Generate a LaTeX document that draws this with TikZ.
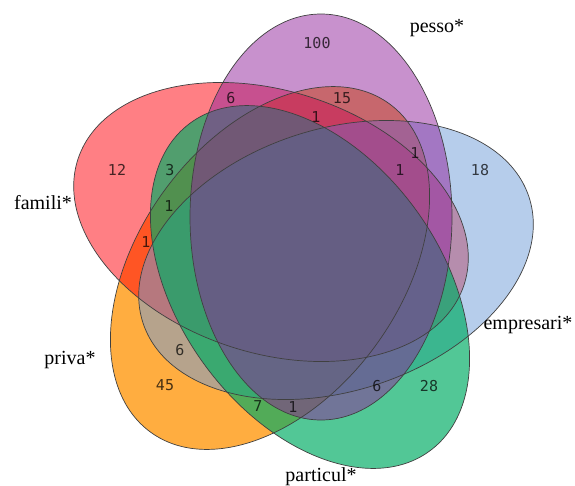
\documentclass[tikz,border=0pt]{standalone}
\usepackage{fontspec}
\setmainfont{Liberation Serif}
\newfontfamily\numfont{DejaVu Sans Mono}
\definecolor{cPriva}{RGB}{255,145,0}
\definecolor{cFamili}{RGB}{255,0,10}
\definecolor{cParticul}{RGB}{0,172,100}
\definecolor{cEmpresari}{RGB}{110,155,215}
\definecolor{cPesso}{RGB}{145,35,155}
\begin{document}
\begin{tikzpicture}
		[x=1pt, y=-1pt,
		 ring/.style = {draw=black!75, line width=0.7pt},
		 count/.style = {font=\numfont\fontsize{15}{15}\selectfont, text=black, text opacity=0.72},
		 setname/.style = {font=\fontsize{20}{20}\selectfont}]
	\useasboundingbox (0,0) rectangle (575,485);
	\coordinate (priva) at (270,268);
	\coordinate (famili) at (271,222);
	\coordinate (particul) at (310,287);
	\coordinate (empresari) at (336,260);
	\coordinate (pesso) at (321,217);
	% fills, bottom to top
	\fill[cPriva, fill opacity=0.75, rotate around={54:(priva)}] (priva) ellipse [x radius=203, y radius=131];
	\fill[cFamili, fill opacity=0.5, rotate around={162:(famili)}] (famili) ellipse [x radius=203, y radius=131];
	\fill[cEmpresari, fill opacity=0.5, rotate around={18:(empresari)}] (empresari) ellipse [x radius=203, y radius=131];
	\fill[cParticul, fill opacity=0.68, rotate around={-54:(particul)}] (particul) ellipse [x radius=203, y radius=131];
	\fill[cPesso, fill opacity=0.5, rotate around={90:(pesso)}] (pesso) ellipse [x radius=203, y radius=131];
	% outlines
	\draw[ring, rotate around={54:(priva)}] (priva) ellipse [x radius=203, y radius=131];
	\draw[ring, rotate around={162:(famili)}] (famili) ellipse [x radius=203, y radius=131];
	\draw[ring, rotate around={18:(empresari)}] (empresari) ellipse [x radius=203, y radius=131];
	\draw[ring, rotate around={-54:(particul)}] (particul) ellipse [x radius=203, y radius=131];
	\draw[ring, rotate around={90:(pesso)}] (pesso) ellipse [x radius=203, y radius=131];
	% set names
	\node[setname] (lpesso) at (437,28) {pesso*};
	\node[setname] (lfamili) at (43,203) {famili*};
	\node[setname] (lpriva) at (70,360) {priva*};
	\node[setname] (lempresari) at (528,325) {empresari*};
	\node[setname] (lparticul) at (321,477) {particul*};
	% counts
	\node[count] (c1) at (317,43) {100};
	\node[count] (c2) at (231,98) {6};
	\node[count] (c3) at (342,98) {15};
	\node[count] (c4) at (316,117) {1};
	\node[count] (c5) at (117,170) {12};
	\node[count] (c6) at (170,170) {3};
	\node[count] (c7) at (415,153) {1};
	\node[count] (c8) at (400,170) {1};
	\node[count] (c9) at (480,170) {18};
	\node[count] (c10) at (169,206) {1};
	\node[count] (c11) at (146,242) {1};
	\node[count] (c12) at (180,350) {6};
	\node[count] (c13) at (165,385) {45};
	\node[count] (c14) at (377,386) {6};
	\node[count] (c15) at (429,386) {28};
	\node[count] (c16) at (258,406) {7};
	\node[count] (c17) at (293,407) {1};
\end{tikzpicture}
\end{document}
